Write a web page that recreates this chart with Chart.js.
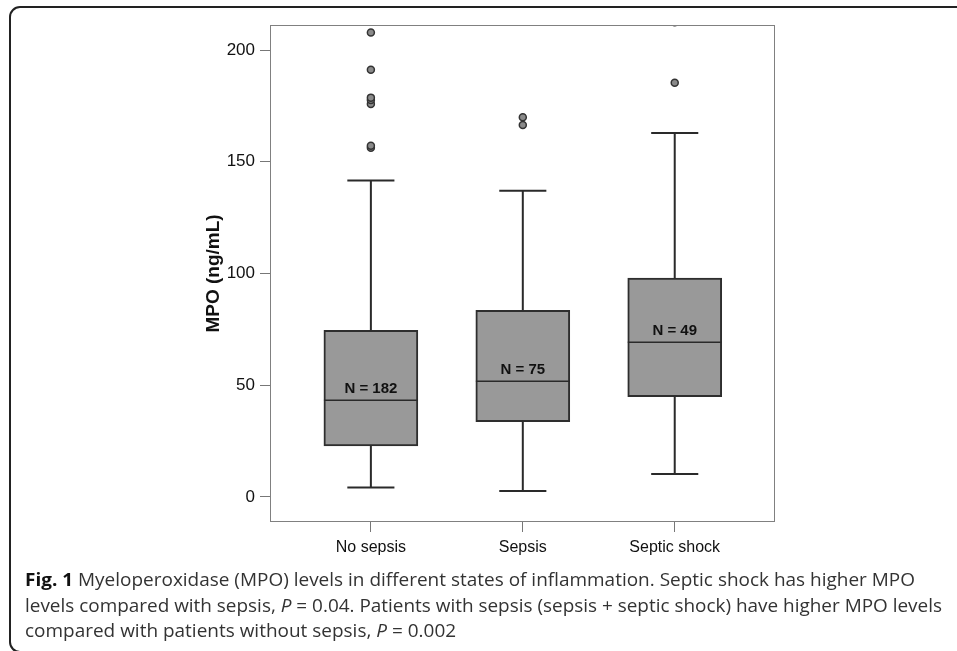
<!DOCTYPE html>
<html>
<head>
<meta charset="utf-8">
<script src="https://cdn.jsdelivr.net/npm/chart.js@4.4.0/dist/chart.umd.min.js"></script>
<style>
  html, body { margin: 0; padding: 0; background: #fff; }
  #wrap { position: relative; width: 957px; height: 651px; overflow: hidden; }
  #frame { position: absolute; left: 9px; top: 6px; width: 1000px; height: 647px; border: 2px solid #222; border-radius: 11px; box-sizing: border-box; }
  #chartBox { position: absolute; left: 0; top: 0; width: 957px; height: 651px; }
  .cap { position: absolute; left: 25px; font-family: "Open Sans", sans-serif; font-size: 18px; line-height: 25px; color: #333; white-space: nowrap; transform-origin: left center; }
  .cap b { color: #111; }
</style>
</head>
<body>
<div id="wrap">
  <div id="frame"></div>
  <div id="chartBox"><canvas id="mpoChart" width="957" height="651"></canvas></div>
  <div class="cap" id="cap1" style="top:567px"><b>Fig. 1</b> Myeloperoxidase (MPO) levels in different states of inflammation. Septic shock has higher MPO</div>
  <div class="cap" id="cap2" style="top:593px">levels compared with sepsis, <i>P</i> = 0.04. Patients with sepsis (sepsis + septic shock) have higher MPO levels</div>
  <div class="cap" id="cap3" style="top:618px">compared with patients without sepsis, <i>P</i> = 0.002</div>
</div>
<script>
// values (ng/mL)
const categories = ['No sepsis', 'Sepsis', 'Septic shock'];
const positions = [1, 2, 3];
const whiskerLow = [4.2, 2.7, 10.3];
const q1 = [22.8, 33.7, 44.9];
const medians = [43.3, 51.8, 69.2];
const q3 = [74.6, 83.5, 97.9];
const whiskerHigh = [141.6, 137.0, 162.9];
const outliers = [
  [156.3, 157.2, 175.8, 177.6, 178.7, 191.2, 207.8],
  [166.4, 169.9],
  [185.4, 212.4]
];
const counts = [182, 75, 49];
const yTicks = [0, 50, 100, 150, 200];

const capHalf = 0.155;
const boxHalf = 0.309;

function buildWhiskers() {
  const pts = [];
  positions.forEach((x, i) => {
    pts.push({x: x, y: q3[i]}, {x: x, y: whiskerHigh[i]}, {x: x, y: null});
    pts.push({x: x - capHalf, y: whiskerHigh[i]}, {x: x + capHalf, y: whiskerHigh[i]}, {x: x, y: null});
    pts.push({x: x, y: whiskerLow[i]}, {x: x, y: q1[i]}, {x: x, y: null});
    pts.push({x: x - capHalf, y: whiskerLow[i]}, {x: x + capHalf, y: whiskerLow[i]}, {x: x, y: null});
  });
  return pts;
}

function buildMedians() {
  const pts = [];
  positions.forEach((x, i) => {
    pts.push({x: x - boxHalf, y: medians[i]}, {x: x + boxHalf, y: medians[i]}, {x: x, y: null});
  });
  return pts;
}

function buildOutliers() {
  const pts = [];
  outliers.forEach((list, i) => {
    list.forEach(v => pts.push({x: positions[i], y: v}));
  });
  return pts;
}

const frameAndLabels = {
  id: 'frameAndLabels',
  afterDatasetsDraw(chart) {
    const {ctx, chartArea, scales} = chart;
    ctx.save();
    ctx.strokeStyle = '#808080';
    ctx.lineWidth = 1;
    ctx.strokeRect(chartArea.left + 0.5, chartArea.top + 0.5, chartArea.right - chartArea.left - 1, chartArea.bottom - chartArea.top - 1);
    ctx.fillStyle = '#111';
    ctx.font = 'bold 15px "Liberation Sans", Arial, sans-serif';
    ctx.textAlign = 'center';
    ctx.textBaseline = 'alphabetic';
    positions.forEach((x, i) => {
      const px = scales.x.getPixelForValue(x);
      const py = scales.y.getPixelForValue(medians[i]);
      ctx.fillText('N = ' + counts[i], px, py - 7);
    });
    ctx.restore();
  }
};

const mpoChart = new Chart(document.getElementById('mpoChart'), {
  type: 'bar',
  data: {
    datasets: [{
      type: 'scatter',
      data: buildOutliers(),
      pointRadius: 3.5,
      pointBackgroundColor: '#8a8a8a',
      pointBorderColor: '#333',
      pointBorderWidth: 1.5,
      order: 0
    }, {
      type: 'line',
      data: buildMedians(),
      borderColor: '#2a2a2a',
      borderWidth: 1.5,
      pointRadius: 0,
      spanGaps: false,
      fill: false,
      order: 1
    }, {
      type: 'line',
      data: buildWhiskers(),
      borderColor: '#2a2a2a',
      borderWidth: 2,
      pointRadius: 0,
      spanGaps: false,
      fill: false,
      order: 2
    }, {
      type: 'bar',
      data: positions.map((x, i) => ({x: x, y: [q1[i], q3[i]]})),
      backgroundColor: '#999999',
      borderColor: '#2e2e2e',
      borderWidth: 2,
      borderSkipped: false,
      barThickness: 94,
      order: 3
    }]
  },
  options: {
    responsive: false,
    animation: false,
    events: [],
    layout: { padding: { left: 0, right: 182, top: 25, bottom: 0 } },
    plugins: { legend: { display: false }, tooltip: { enabled: false } },
    scales: {
      x: {
        type: 'linear',
        min: 0.336,
        max: 3.66,
        offset: false,
        afterBuildTicks: s => { s.ticks = positions.map(v => ({value: v})); },
        afterFit: s => { s.height = 129; },
        grid: { offset: false, drawOnChartArea: false, drawTicks: true, tickLength: 10, color: '#777' },
        border: { display: false },
        ticks: {
          callback: (v, i) => categories[i],
          color: '#111',
          font: { family: '"Liberation Sans", Arial, sans-serif', size: 16 },
          padding: 6,
          maxRotation: 0,
          autoSkip: false
        }
      },
      y: {
        type: 'linear',
        min: -11.2,
        max: 211.2,
        afterBuildTicks: s => { s.ticks = yTicks.map(v => ({value: v})); },
        afterFit: s => { s.width = 270; },
        grid: { drawOnChartArea: false, drawTicks: true, tickLength: 10, color: '#777' },
        border: { display: false },
        ticks: {
          color: '#111',
          font: { family: '"Liberation Sans", Arial, sans-serif', size: 17 },
          padding: 5
        },
        title: {
          display: true,
          text: 'MPO (ng/mL)',
          color: '#111',
          font: { family: '"Liberation Sans", Arial, sans-serif', size: 19, weight: 'bold' },
          padding: { top: 202, bottom: 0 }
        }
      }
    }
  },
  plugins: [frameAndLabels]
});

// squeeze the caption lines to the widths in the figure
const capTargets = { cap1: 890, cap2: 917 };
let factors = [];
Object.keys(capTargets).forEach(id => {
  const el = document.getElementById(id);
  const f = capTargets[id] / el.getBoundingClientRect().width;
  factors.push(f);
  el.style.transform = 'scaleX(' + f + ')';
});
document.getElementById('cap3').style.transform = 'scaleX(' + factors[0] + ')';
</script>
</body>
</html>
